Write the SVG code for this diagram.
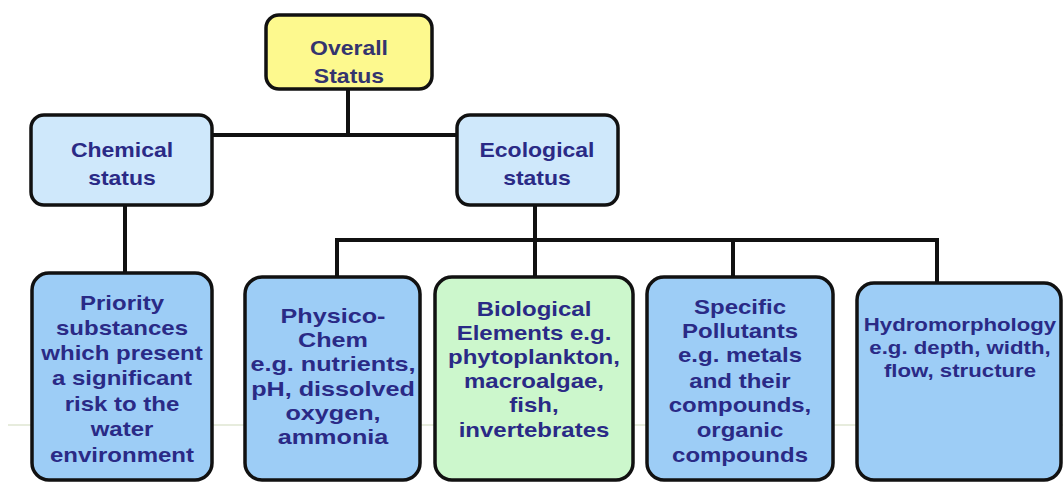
<svg xmlns="http://www.w3.org/2000/svg" width="1063" height="482" viewBox="0 0 1063 482">
<style>
.box{stroke:#111;stroke-width:3.5}
.yel{fill:#fdf98e}
.lb{fill:#cfe8fb}
.mb{fill:#9dcdf6}
.gr{fill:#ccf7cc}
.t{font-family:"Liberation Sans",Arial,sans-serif;font-weight:bold;font-size:20px;fill:#2a2a86;text-anchor:middle}
.c{stroke:#111;stroke-width:4;fill:none;stroke-linecap:square}
</style>
<rect width="1063" height="482" fill="#fff"/>
<line x1="8" y1="425" x2="1063" y2="425" stroke="#dfe6d2" stroke-width="1.5"/>
<g id="connectors">
<polyline class="c" points="348,88 348,135"/>
<polyline class="c" points="212,135 457,135"/>
<polyline class="c" points="125,205 125,273"/>
<polyline class="c" points="535,205 535,277"/>
<polyline class="c" points="337,277 337,240 937,240 937,283"/>
<polyline class="c" points="733,240 733,277"/>
</g>
<g id="overall">
<rect class="box yel" x="266" y="15" width="166" height="74" rx="13"/>
<text class="t" style="fill:#34346e" transform="translate(349,0) scale(1.15,1)"><tspan x="0" y="55">Overall</tspan><tspan x="0" y="83">Status</tspan></text>
</g>
<g id="chemical">
<rect class="box lb" x="31" y="115" width="181" height="90" rx="13"/>
<text class="t" transform="translate(122,0) scale(1.15,1)"><tspan x="0" y="157">Chemical</tspan><tspan x="0" y="185">status</tspan></text>
</g>
<g id="ecological">
<rect class="box lb" x="457" y="115" width="161" height="90" rx="13"/>
<text class="t" transform="translate(537,0) scale(1.15,1)"><tspan x="0" y="157">Ecological</tspan><tspan x="0" y="185">status</tspan></text>
</g>
<g id="priority">
<rect class="box mb" x="32" y="273" width="180" height="207" rx="17"/>
<text class="t" transform="translate(122,0) scale(1.2,1)"><tspan x="0" y="310">Priority</tspan><tspan x="0" y="335">substances</tspan><tspan x="0" y="360">which present</tspan><tspan x="0" y="385">a significant</tspan><tspan x="0" y="411">risk to the</tspan><tspan x="0" y="436">water</tspan><tspan x="0" y="462">environment</tspan></text>
</g>
<g id="physico">
<rect class="box mb" x="245" y="277" width="175" height="203" rx="17"/>
<text class="t" transform="translate(333,0) scale(1.26,1)"><tspan x="0" y="323">Physico-</tspan><tspan x="0" y="347">Chem</tspan><tspan x="0" y="371">e.g. nutrients,</tspan><tspan x="0" y="396">pH, dissolved</tspan><tspan x="0" y="420">oxygen,</tspan><tspan x="0" y="444">ammonia</tspan></text>
</g>
<g id="biological">
<rect class="box gr" x="435" y="277" width="198" height="203" rx="17"/>
<text class="t" transform="translate(534,0) scale(1.2,1)"><tspan x="0" y="316">Biological</tspan><tspan x="0" y="340">Elements e.g.</tspan><tspan x="0" y="364">phytoplankton,</tspan><tspan x="0" y="388">macroalgae,</tspan><tspan x="0" y="412">fish,</tspan><tspan x="0" y="437">invertebrates</tspan></text>
</g>
<g id="specific">
<rect class="box mb" x="647" y="277" width="186" height="203" rx="17"/>
<text class="t" transform="translate(740,0) scale(1.2,1)"><tspan x="0" y="314">Specific</tspan><tspan x="0" y="338">Pollutants</tspan><tspan x="0" y="362">e.g. metals</tspan><tspan x="0" y="388">and their</tspan><tspan x="0" y="412">compounds,</tspan><tspan x="0" y="437">organic</tspan><tspan x="0" y="462">compounds</tspan></text>
</g>
<g id="hydromorphology">
<rect class="box mb" x="857" y="283" width="204" height="197" rx="17"/>
<text class="t" transform="translate(960,0) scale(1.17,1)" style="font-size:19px"><tspan x="0" y="331">Hydromorphology</tspan><tspan x="0" y="354">e.g. depth, width,</tspan><tspan x="0" y="377">flow, structure</tspan></text>
</g>
</svg>
